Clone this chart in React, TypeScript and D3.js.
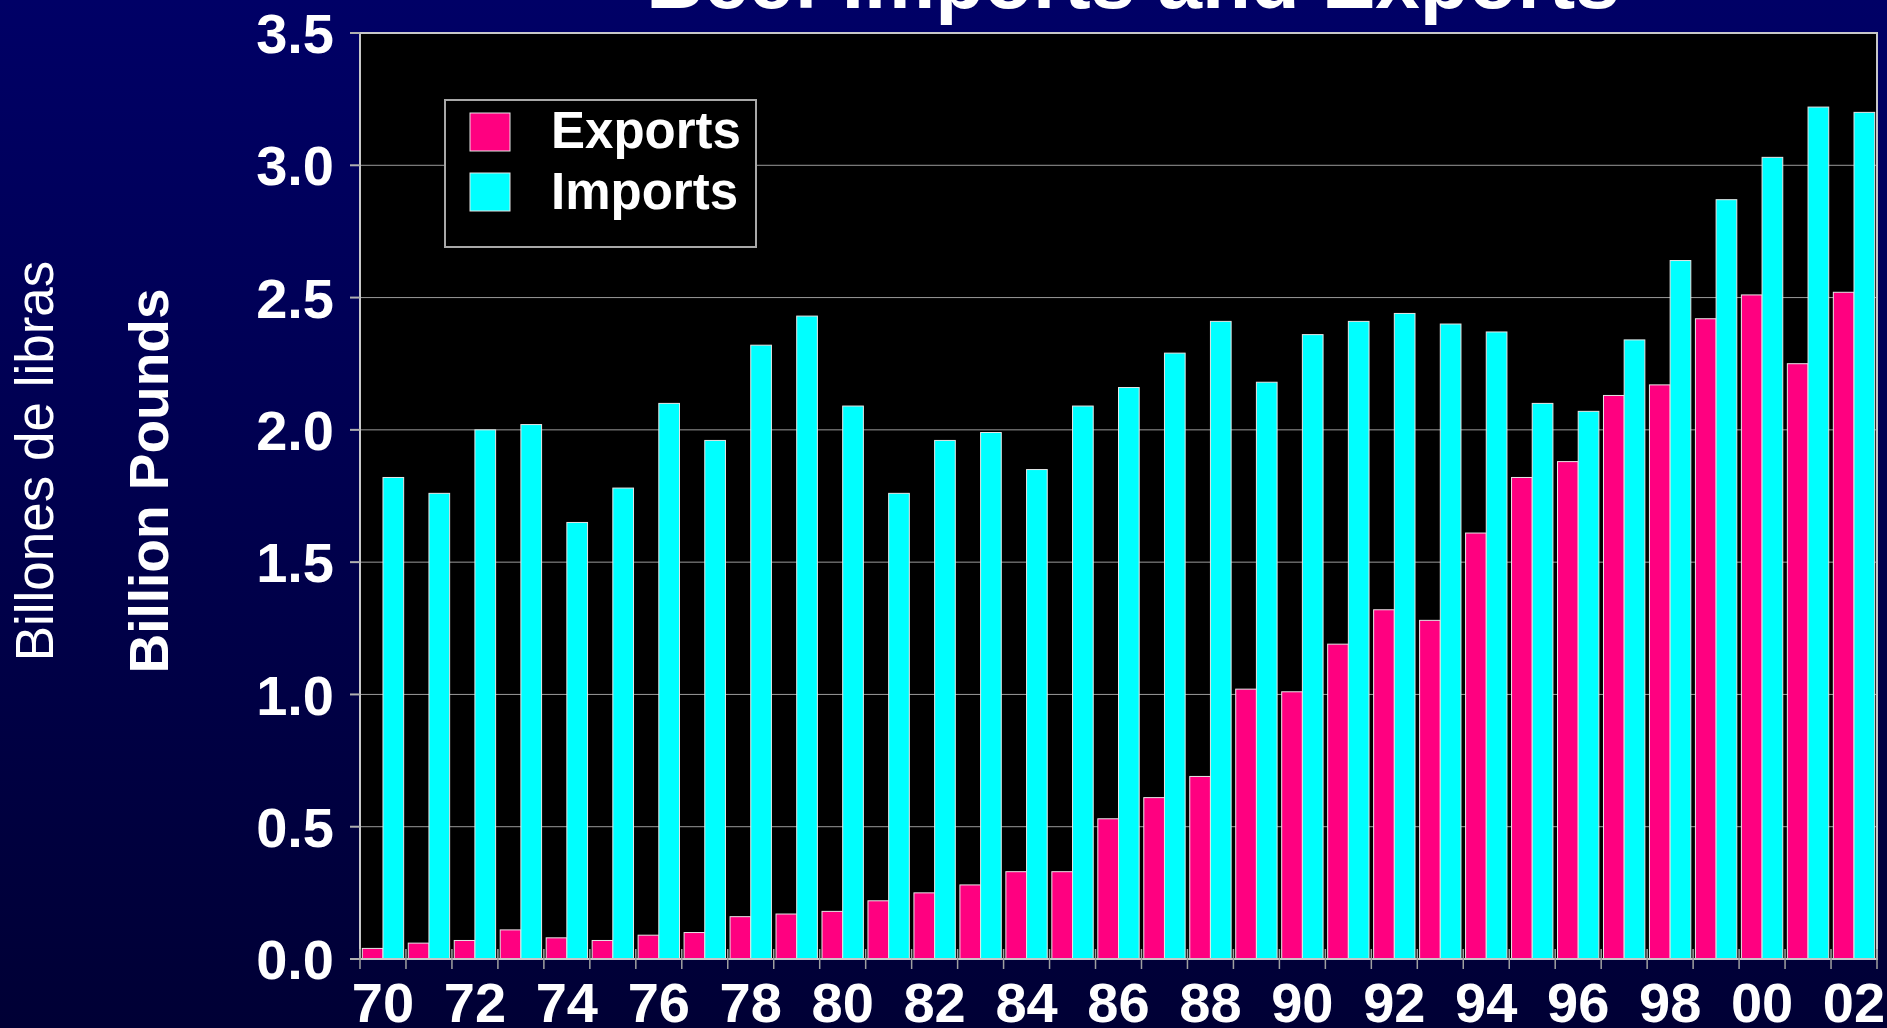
import React from "react";
import * as d3 from "d3";

const years = [
  "70","71","72","73","74","75","76","77","78","79","80","81","82","83","84","85","86",
  "87","88","89","90","91","92","93","94","95","96","97","98","99","00","01","02",
];
const exportsVals = [
  0.04, 0.06, 0.07, 0.11, 0.08, 0.07, 0.09, 0.10, 0.16, 0.17, 0.18, 0.22, 0.25, 0.28, 0.33, 0.33, 0.53,
  0.61, 0.69, 1.02, 1.01, 1.19, 1.32, 1.28, 1.61, 1.82, 1.88, 2.13, 2.17, 2.42, 2.51, 2.25, 2.52,
];
const importsVals = [
  1.82, 1.76, 2.00, 2.02, 1.65, 1.78, 2.10, 1.96, 2.32, 2.43, 2.09, 1.76, 1.96, 1.99, 1.85, 2.09, 2.16,
  2.29, 2.41, 2.18, 2.36, 2.41, 2.44, 2.40, 2.37, 2.10, 2.07, 2.34, 2.64, 2.87, 3.03, 3.22, 3.20,
];
const yTicks = [0, 0.5, 1.0, 1.5, 2.0, 2.5, 3.0, 3.5];
const xLabels = ["70","72","74","76","78","80","82","84","86","88","90","92","94","96","98","00","02"];
const seriesNames = ["Exports", "Imports"];

const W = 1887;
const H = 1028;
const L = 360, R = 1877, T = 33, B = 959;
const FONT = "'Liberation Sans', Arial, Helvetica, sans-serif";
const EXP_COLOR = "#FF0080";
const IMP_COLOR = "#00FFFF";

export default function App() {
  const x = d3.scaleBand<string>().domain(years).range([L, R]).padding(0);
  const y = d3.scaleLinear().domain([0, 3.5]).range([B, T]);
  const bw = x.bandwidth();
  const barW = bw * 0.45;

  return (
    <svg
      width={W}
      height={H}
      style={{ position: "absolute", left: 0, top: 0, display: "block" }}
      fontFamily={FONT}
    >
      <defs>
        <linearGradient id="bg" x1="0" y1="0" x2="0" y2="1">
          <stop offset="0" stopColor="#000066" />
          <stop offset="1" stopColor="#000035" />
        </linearGradient>
      </defs>
      <rect x={0} y={0} width={W} height={H} fill="url(#bg)" />

      {/* title (mostly cut off at top) */}
      <text x={1133} y={8} textAnchor="middle" fill="#fff" fontWeight="bold" fontSize={80}>
        Beef Imports and Exports
      </text>

      {/* plot area */}
      <rect x={L} y={T} width={R - L} height={B - T} fill="#000" />
      {yTicks.filter((t) => t > 0 && t < 3.5).map((t) => (
        <line key={"g" + t} x1={L} x2={R} y1={y(t)} y2={y(t)} stroke="#9a9a9a" strokeWidth={1} />
      ))}

      {/* bars */}
      {years.map((yr, i) => {
        const x0 = x(yr)!;
        return (
          <g key={yr}>
            <rect
              x={x0 + bw * 0.05}
              y={y(exportsVals[i])}
              width={barW}
              height={B - y(exportsVals[i])}
              fill={EXP_COLOR}
              stroke="#e6e6e6"
              strokeWidth={1}
            />
            <rect
              x={x0 + bw * 0.5}
              y={y(importsVals[i])}
              width={barW}
              height={B - y(importsVals[i])}
              fill={IMP_COLOR}
              stroke="#e6e6e6"
              strokeWidth={1}
            />
          </g>
        );
      })}

      {/* frame */}
      <rect x={L} y={T} width={R - L} height={B - T} fill="none" stroke="#c8c8c8" strokeWidth={2} />

      {/* y ticks */}
      {yTicks.map((t) => (
        <g key={"y" + t}>
          <line x1={L - 10} x2={L} y1={y(t)} y2={y(t)} stroke="#b0b0b0" strokeWidth={2} />
          <text
            x={334}
            y={y(t)}
            dy="0.36em"
            textAnchor="end"
            fill="#fff"
            fontWeight="bold"
            fontSize={56}
          >
            {t.toFixed(1)}
          </text>
        </g>
      ))}

      {/* x ticks */}
      {years.map((yr) => (
        <line key={"xt" + yr} x1={x(yr)!} x2={x(yr)!} y1={B - 10} y2={B + 10} stroke="#a0a0a0" strokeWidth={1.5} />
      ))}
      <line x1={R} x2={R} y1={B - 10} y2={B + 10} stroke="#a0a0a0" strokeWidth={1.5} />
      {xLabels.map((lab) => (
        <text
          key={"xl" + lab}
          x={x(lab)! + bw / 2}
          y={1022}
          textAnchor="middle"
          fill="#fff"
          fontWeight="bold"
          fontSize={56}
        >
          {lab}
        </text>
      ))}

      {/* axis titles */}
      <text
        transform="translate(53,461) rotate(-90)"
        textAnchor="middle"
        fill="#fff"
        fontSize={53}
      >
        Billones de libras
      </text>
      <text
        transform="translate(168,481) rotate(-90)"
        textAnchor="middle"
        fill="#fff"
        fontWeight="bold"
        fontSize={55}
      >
        Billion Pounds
      </text>

      {/* legend */}
      <rect x={445} y={100} width={311} height={147} fill="#000" stroke="#a8a8a8" strokeWidth={2} />
      {seriesNames.map((name, i) => (
        <g key={name}>
          <rect
            x={470}
            y={113 + i * 60}
            width={40}
            height={38}
            fill={i === 0 ? EXP_COLOR : IMP_COLOR}
            stroke="#e6e6e6"
            strokeWidth={1}
          />
          <text x={551} y={148 + i * 61} fill="#fff" fontWeight="bold" fontSize={51}>
            {name}
          </text>
        </g>
      ))}
    </svg>
  );
}
